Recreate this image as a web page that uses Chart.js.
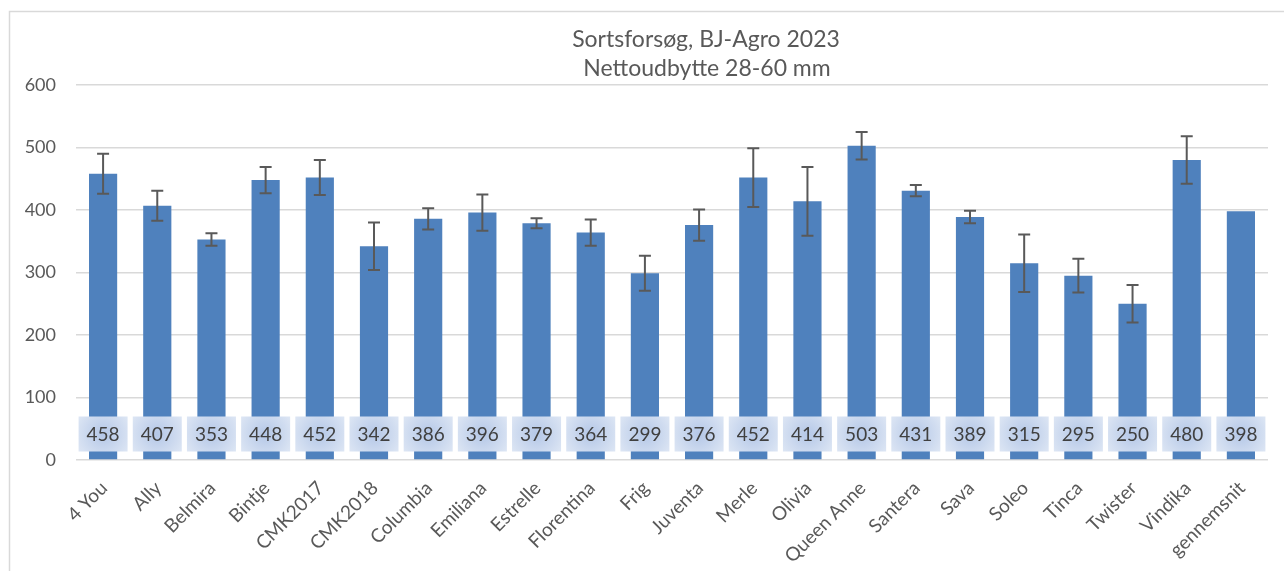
<!DOCTYPE html>
<html>
<head>
<meta charset="utf-8">
<script src="https://cdn.jsdelivr.net/npm/chart.js@4.4.0/dist/chart.umd.min.js"></script>
<style>
  html, body { margin: 0; padding: 0; background: #ffffff; }
  #wrap { width: 1284px; height: 571px; position: relative; }
</style>
</head>
<body>
<div id="wrap"><canvas id="c" width="1284" height="571"></canvas></div>
<script>
const titleLines = ["Sortsforsøg, BJ-Agro 2023", "Nettoudbytte 28-60 mm"];
const categories = ["4 You","Ally","Belmira","Bintje","CMK2017","CMK2018","Columbia","Emiliana","Estrelle","Florentina","Frig","Juventa","Merle","Olivia","Queen Anne","Santera","Sava","Soleo","Tinca","Twister","Vindika","gennemsnit"];
const values = [458,407,353,448,452,342,386,396,379,364,299,376,452,414,503,431,389,315,295,250,480,398];
const errors = [32,24,10,21,28,38,17,29,8,21,28,25,47,55,22,9,10,46,27,30,38,null];
const yTicks = [0,100,200,300,400,500,600];

const FONT = "Lato, 'Open Sans', sans-serif";

const framePlugin = {
  id: 'frame',
  beforeDraw(chart) {
    const ctx = chart.ctx;
    ctx.save();
    ctx.fillStyle = '#ffffff';
    ctx.fillRect(0, 0, chart.width, chart.height);
    ctx.strokeStyle = '#d9d9d9';
    ctx.lineWidth = 1.5;
    ctx.beginPath();
    ctx.moveTo(9.5, chart.height);
    ctx.lineTo(9.5, 11.5);
    ctx.lineTo(chart.width, 11.5);
    ctx.stroke();
    ctx.restore();
  },
  afterDraw(chart) {
    const ctx = chart.ctx;
    ctx.save();
    ctx.fillStyle = '#595959';
    ctx.font = "23px " + FONT;
    ctx.textAlign = 'center';
    ctx.textBaseline = 'alphabetic';
    ctx.fillText(titleLines[0], 706, 47);
    ctx.fillText(titleLines[1], 707, 76);
    // rotated category labels (45 degrees), positioned from the x scale
    const xs = chart.scales.x;
    const base = chart.scales.y.getPixelForValue(0);
    ctx.font = "19px " + FONT;
    ctx.textAlign = 'right';
    ctx.textBaseline = 'middle';
    xs.getLabels().forEach((lab, i) => {
      const x = xs.getPixelForTick(i);
      ctx.save();
      ctx.translate(x + 1, base + 25);
      ctx.rotate(-Math.PI / 4);
      ctx.fillText(lab, 0, 0);
      ctx.restore();
    });
    ctx.restore();
  }
};

const errorBarPlugin = {
  id: 'errbars',
  afterDatasetsDraw(chart) {
    const ctx = chart.ctx;
    const meta = chart.getDatasetMeta(0);
    const y = chart.scales.y;
    ctx.save();
    ctx.strokeStyle = '#595959';
    ctx.lineWidth = 2;
    meta.data.forEach((bar, i) => {
      const e = errors[i];
      if (e === null || e === undefined) return;
      const v = values[i];
      const yt = y.getPixelForValue(v + e);
      const yb = y.getPixelForValue(v - e);
      const x = bar.x;
      ctx.beginPath();
      ctx.moveTo(x, yt); ctx.lineTo(x, yb);
      ctx.moveTo(x - 6, yt); ctx.lineTo(x + 6, yt);
      ctx.moveTo(x - 6, yb); ctx.lineTo(x + 6, yb);
      ctx.stroke();
    });
    // data labels
    const base = y.getPixelForValue(0);
    meta.data.forEach((bar, i) => {
      const cx = bar.x;
      const cy = base - 26;
      const w = 49, h = 35;
      const g = ctx.createRadialGradient(cx, cy, 0, cx, cy, 30);
      g.addColorStop(0, '#b4c7e7');
      g.addColorStop(1, '#dde6f4');
      ctx.fillStyle = g;
      ctx.fillRect(cx - w / 2, cy - h / 2, w, h);
      ctx.fillStyle = '#404040';
      ctx.font = "19px " + FONT;
      ctx.textAlign = 'center';
      ctx.textBaseline = 'middle';
      ctx.fillText(String(values[i]), cx, cy + 1);
    });
    ctx.restore();
  }
};

new Chart(document.getElementById('c'), {
  type: 'bar',
  data: {
    labels: categories,
    datasets: [{
      data: values,
      backgroundColor: '#4f81bd',
      borderWidth: 0,
      barPercentage: 0.52,
      categoryPercentage: 1.0
    }]
  },
  options: {
    responsive: false,
    animation: false,
    devicePixelRatio: 1,
    layout: { padding: { top: 85, left: 10, right: 16, bottom: 0 } },
    plugins: {
      legend: { display: false },
      tooltip: { enabled: false },
      title: { display: false }
    },
    scales: {
      x: {
        grid: { display: false, drawTicks: false },
        border: { display: false },
        ticks: { display: false },
        afterFit(scale) { scale.height = 111; }
      },
      y: {
        min: 0,
        max: 600,
        afterBuildTicks(scale) { scale.ticks = yTicks.map(v => ({ value: v })); },
        grid: { color: '#d9d9d9', lineWidth: 1.5, drawTicks: false },
        border: { display: false },
        ticks: {
          color: '#595959',
          font: { family: FONT, size: 18 },
          padding: 20
        },
        afterFit(scale) { scale.width = 66; }
      }
    }
  },
  plugins: [framePlugin, errorBarPlugin]
});
</script>
</body>
</html>
